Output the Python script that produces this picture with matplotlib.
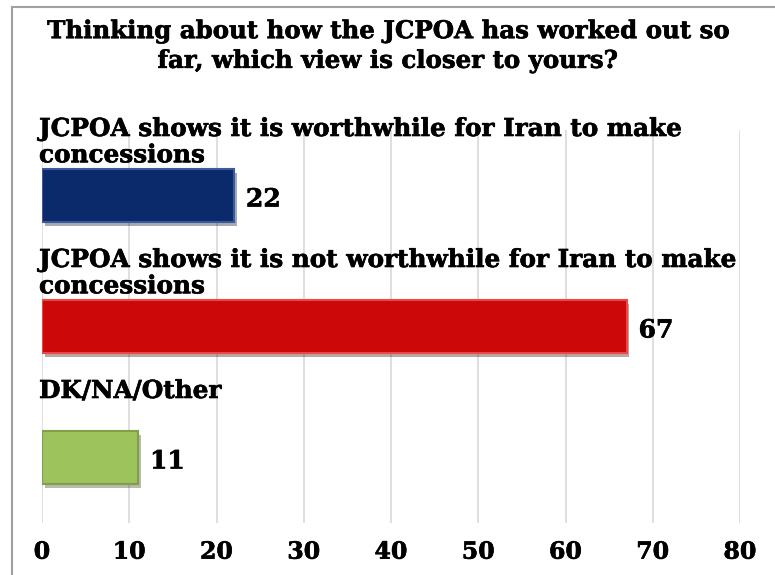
import matplotlib.pyplot as plt
import matplotlib.patheffects as pe
from matplotlib.patches import Rectangle
from matplotlib.transforms import offset_copy

# -------------------- DATA --------------------
title = "Thinking about how the JCPOA has worked out so\nfar, which view is closer to yours?"

categories = [
    "JCPOA shows it is worthwhile for Iran to make\nconcessions",
    "JCPOA shows it is not worthwhile for Iran to make\nconcessions",
    "DK/NA/Other",
]
values = [22, 67, 11]
colors = ["#0b2a6b", "#cc0808", "#9cc35c"]
edge_colors = ["#3a5a9c", "#e84848", "#7f9f48"]
ticks = [0, 10, 20, 30, 40, 50, 60, 70, 80]

FONT = "DejaVu Serif"
# a thin outline makes the bold serif a bit heavier
HEAVY = [pe.withStroke(linewidth=0.45, foreground="black")]

# -------------------- FIGURE --------------------
fig = plt.figure(figsize=(7.75, 5.75), dpi=100)

# chart frame (left and top edges are visible)
fig.patches.append(Rectangle((12 / 775, -0.2), 1.5, 1.2 - 7 / 575,
                             transform=fig.transFigure, fill=False,
                             edgecolor="#a0a0a0", linewidth=1.5))

fig.text(0.5, 1 - 46 / 575, title, ha="center", va="center",
         fontsize=17.6, fontweight="bold", family=FONT, linespacing=1.3,
         path_effects=HEAVY)

ax = fig.add_axes([42 / 775, 1 - 523 / 575, 698 / 775, 393 / 575])

y_pos = list(range(len(values)))
bars = ax.barh(y_pos, values, height=0.4, color=colors,
               edgecolor=edge_colors, linewidth=1.5, zorder=3)

for bar in bars:
    bar.set_path_effects([pe.SimplePatchShadow(offset=(2, -3), alpha=0.35),
                          pe.Normal()])

ax.set_xlim(0, 80)
ax.set_ylim(len(values) - 0.5, -0.5)

ax.set_xticks(ticks)
ax.set_xticklabels([str(t) for t in ticks], fontsize=17, fontweight="bold",
                   family=FONT)
for lbl in ax.get_xticklabels():
    lbl.set_path_effects(HEAVY)
ax.tick_params(axis="x", length=0, pad=12)
ax.set_yticks([])

ax.grid(axis="x", color="#d9d9d9", linewidth=1.2, zorder=0)
for spine in ax.spines.values():
    spine.set_visible(False)

# category labels start at the top of each band
for i, label in enumerate(categories):
    tr = offset_copy(ax.transData, fig=fig, x=-3, y=13, units="dots")
    ax.text(0, i - 0.5, label, transform=tr, ha="left", va="top",
            fontsize=17.8, fontweight="bold", family=FONT, linespacing=1.12,
            path_effects=HEAVY, zorder=4)

# value labels at the bar ends
for i, v in enumerate(values):
    tr = offset_copy(ax.transData, fig=fig, x=12, y=-4, units="dots")
    ax.text(v, i, str(v), transform=tr, ha="left", va="center",
            fontsize=18, fontweight="bold", family=FONT,
            path_effects=HEAVY, zorder=4)

fig.savefig("out.png", dpi=100)
